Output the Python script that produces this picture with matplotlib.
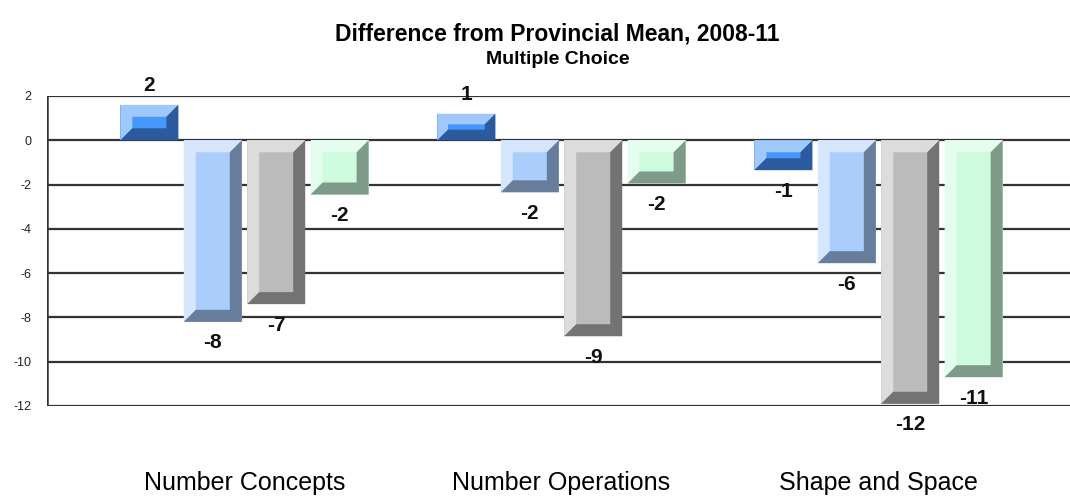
import numpy as np
import matplotlib.pyplot as plt
from matplotlib.patches import Polygon

plt.rcParams['font.family'] = ['Liberation Sans', 'DejaVu Sans']

categories = ['Number Concepts', 'Number Operations', 'Shape and Space']
series_1 = [1.6, 1.2, -1.35]
series_2 = [-8.2, -2.35, -5.55]
series_3 = [-7.4, -8.85, -11.9]
series_4 = [-2.45, -1.95, -10.7]
y_ticks = [2, 0, -2, -4, -6, -8, -10, -12]

# (light bevel, face, dark bevel) for each series
shades = [
    ('#a0c8fb', '#4597fb', '#2b5b9e'),
    ('#d6e6fd', '#aacdfb', '#677d9c'),
    ('#dcdcdc', '#bbbbbb', '#737373'),
    ('#e5fdee', '#cefbdd', '#7e9a88'),
]

fig = plt.figure(figsize=(10.7, 5.01), dpi=100)
ax = fig.add_axes([47 / 1070, 95 / 501, 1023 / 1070, 310 / 501])

x = np.arange(len(categories))
slot = 0.2
width = 0.183
ax.set_xlim(-0.623, 2.604)
ax.set_ylim(-12, 2)

# horizontal rules behind the bars
for t in y_ticks:
    ax.axhline(t, color='#333333', lw=1.6, zorder=1)
ax.axvline(-0.623, color='#333333', lw=1.8, zorder=1)

px_x = ax.transData.transform((1, 0))[0] - ax.transData.transform((0, 0))[0]
px_y = ax.transData.transform((0, 1))[1] - ax.transData.transform((0, 0))[1]

all_series = [series_1, series_2, series_3, series_4]
for i, vals in enumerate(all_series):
    light, face, dark = shades[i]
    bars = ax.bar(x + (i - 1.5) * slot, vals, width, color=face,
                  edgecolor='none', zorder=3)
    for rect, v in zip(bars, vals):
        x0 = rect.get_x()
        x1 = x0 + rect.get_width()
        y0 = min(rect.get_y(), rect.get_y() + rect.get_height())
        y1 = max(rect.get_y(), rect.get_y() + rect.get_height())
        b = min(12, abs(y1 - y0) * px_y * 0.4)
        bx = b / px_x
        by = b / px_y
        ax.add_patch(Polygon([(x0, y0), (x0, y1), (x1, y1), (x1 - bx, y1 - by),
                              (x0 + bx, y1 - by), (x0 + bx, y0 + by)],
                             closed=True, facecolor=light, edgecolor='none', zorder=4))
        ax.add_patch(Polygon([(x1, y1), (x1, y0), (x0, y0), (x0 + bx, y0 + by),
                              (x1 - bx, y0 + by), (x1 - bx, y1 - by)],
                             closed=True, facecolor=dark, edgecolor='none', zorder=4))
        off = 19 if v > 0 else -21
        ax.annotate(f'{round(v):d}', (rect.get_x() + rect.get_width() / 2, v),
                    xytext=(0, off * 0.72), textcoords='offset points',
                    ha='center', va='center', fontsize=15, fontweight='bold',
                    color='#111111', zorder=5)

ax.set_yticks(y_ticks)
ax.set_yticklabels([str(t) for t in y_ticks], fontsize=9, color='#222222')
ax.tick_params(axis='y', length=0, pad=11)
ax.set_xticks(x)
ax.set_xticklabels(categories, fontsize=18)
ax.tick_params(axis='x', length=0, pad=47)
for s in ax.spines.values():
    s.set_visible(False)

fig.text(0.521, 1 - 34 / 501, 'Difference from Provincial Mean, 2008-11',
         ha='center', va='center', fontsize=16.5, fontweight='bold')
fig.text(0.521, 1 - 60 / 501, 'Multiple Choice',
         ha='center', va='center', fontsize=14, fontweight='bold')

fig.savefig('out.png', dpi=100)
